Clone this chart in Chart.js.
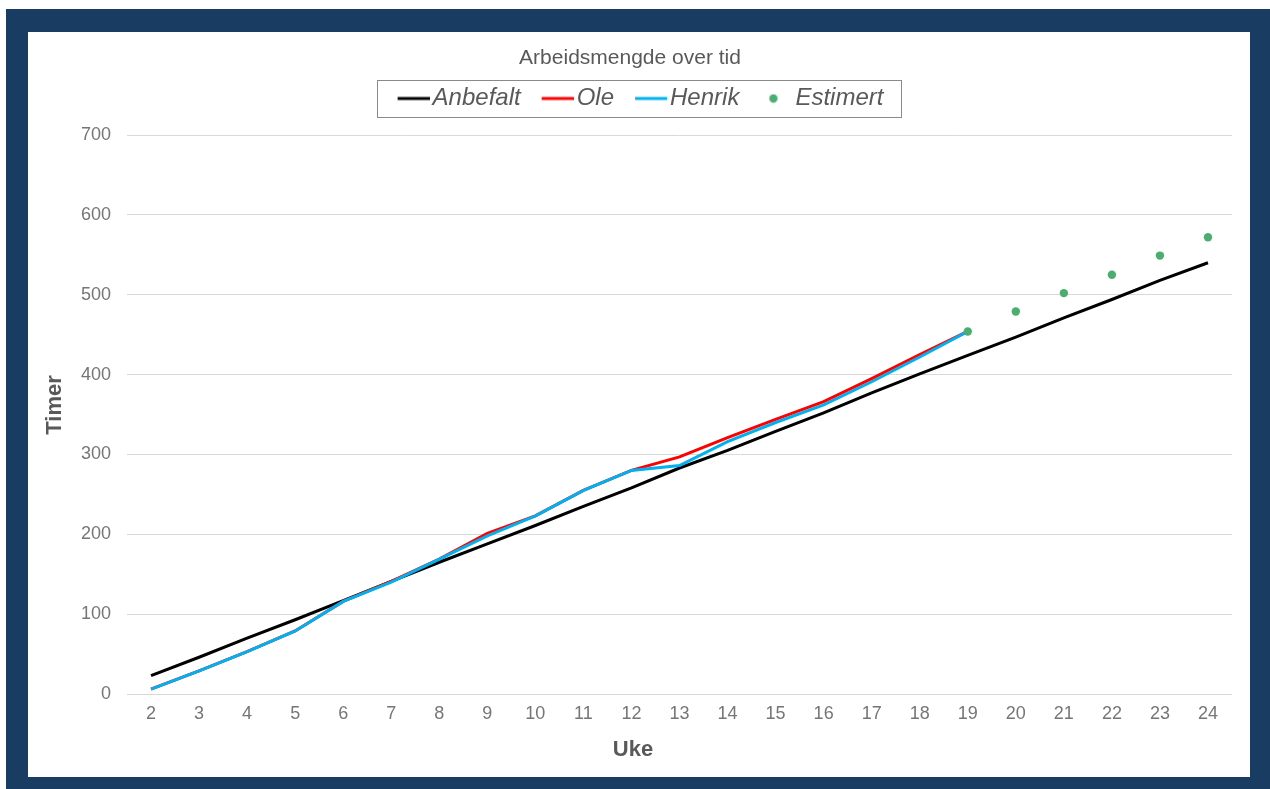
<!DOCTYPE html>
<html>
<head>
<meta charset="utf-8">
<script src="https://cdn.jsdelivr.net/npm/chart.js@4.4.1/dist/chart.umd.min.js"></script>
<style>
  html, body { margin: 0; padding: 0; background: #ffffff; width: 1270px; height: 789px; overflow: hidden; }
  #frame { position: absolute; left: 6px; top: 9px; width: 1264px; height: 780px; background: #183c62; }
  #inner { position: absolute; left: 28px; top: 32px; width: 1222px; height: 745px; background: #ffffff; }
  canvas { display: block; }
</style>
</head>
<body>
<div id="frame"></div>
<div id="inner"><canvas id="c" width="1222" height="745"></canvas></div>
<script>
const weeks = ['2','3','4','5','6','7','8','9','10','11','12','13','14','15','16','17','18','19','20','21','22','23','24'];
const anbefalt = [23, 46, 70, 93, 117, 141, 165, 188, 211, 235, 258, 283, 305, 329, 352, 377, 401, 424, 447, 471, 494, 518, 540];
const ole      = [6, 29, 53, 79, 116, 141, 169, 201, 223, 255, 280, 297, 321, 344, 366, 395, 425, 454, null, null, null, null, null];
const henrik   = [6, 29, 53, 79, 116, 140, 169, 198, 223, 255, 280, 286, 316, 340, 362, 391, 422, 454, null, null, null, null, null];
const estimert = [null, null, null, null, null, null, null, null, null, null, null, null, null, null, null, null, null, 454, 479, 502, 525, 549, 572];
const yTicks = [0, 100, 200, 300, 400, 500, 600, 700];
const xTitle = 'Uke';
const yTitle = 'Timer';

const FONT = "'Liberation Sans', Arial, sans-serif";
const GREEN = '#4aae6f';

function lineMarker(color) {
  const c = document.createElement('canvas');
  c.width = 48; c.height = 10;
  const g = c.getContext('2d');
  g.strokeStyle = color; g.lineWidth = 3;
  g.beginPath(); g.moveTo(16, 5); g.lineTo(48, 5); g.stroke();
  return c;
}
function dotMarker(color) {
  const c = document.createElement('canvas');
  c.width = 48; c.height = 10;
  const g = c.getContext('2d');
  g.fillStyle = color;
  g.beginPath(); g.arc(29, 5, 4.2, 0, Math.PI * 2); g.fill();
  return c;
}
const markers = [lineMarker('#000000'), lineMarker('#ff0000'), lineMarker('#00b0f0'), dotMarker(GREEN)];

const decor = {
  id: 'decor',
  afterLayout(chart) {
    const lg = chart.legend;
    if (lg) { lg.left += 7; lg.right += 7; }
  },
  afterDraw(chart) {
    const ctx = chart.ctx;
    const lg = chart.legend;
    if (lg && lg.legendHitBoxes && lg.legendHitBoxes.length) {
      const hb = lg.legendHitBoxes;
      let minL = Infinity, maxR = -Infinity;
      hb.forEach(h => { minL = Math.min(minL, h.left); maxR = Math.max(maxR, h.left + h.width); });
      const cy = hb[0].top + 12;
      ctx.save();
      ctx.strokeStyle = '#8a8a8a';
      ctx.lineWidth = 1;
      const x0 = Math.round(minL - 14);
      const x1 = Math.round(maxR + 18);
      ctx.strokeRect(x0 + 0.5, Math.round(cy - 18.5) + 0.5, x1 - x0, 37);
      ctx.restore();
    }
    // axis titles
    ctx.save();
    ctx.fillStyle = '#595959';
    ctx.font = "bold 22px " + FONT;
    ctx.textAlign = 'center';
    ctx.textBaseline = 'middle';
    ctx.fillText(xTitle, 605, 718);
    ctx.translate(27, 373);
    ctx.rotate(-Math.PI / 2);
    ctx.fillText(yTitle, 0, 0);
    ctx.restore();
  }
};

new Chart(document.getElementById('c'), {
  type: 'line',
  data: {
    labels: weeks,
    datasets: [
      { label: 'Anbefalt', data: anbefalt, xAxisID: 'x', yAxisID: 'y', borderColor: '#000000', backgroundColor: '#000000', borderWidth: 3, pointRadius: 0, tension: 0, order: 3 },
      { label: 'Ole', data: ole, xAxisID: 'x', yAxisID: 'y', borderColor: '#ff0000', backgroundColor: '#ff0000', borderWidth: 3, pointRadius: 0, tension: 0, order: 2 },
      { label: 'Henrik', data: henrik, xAxisID: 'x', yAxisID: 'y', borderColor: '#00b0f0', backgroundColor: '#00b0f0', borderWidth: 3, pointRadius: 0, tension: 0, order: 1 },
      { label: 'Estimert', data: estimert, xAxisID: 'x', yAxisID: 'y', borderColor: GREEN, backgroundColor: GREEN, showLine: false, pointRadius: 4.2, pointBorderWidth: 0, order: 0 }
    ]
  },
  options: {
    responsive: false,
    animation: false,
    devicePixelRatio: 1,
    layout: { padding: { left: 0, right: 18, top: 0, bottom: 0 } },
    plugins: {
      title: {
        display: true,
        text: 'Arbeidsmengde over tid',
        color: '#595959',
        font: { family: FONT, size: 21, weight: 'normal', lineHeight: 1.1 },
        padding: { top: 15, bottom: 2.4 }
      },
      legend: {
        display: true,
        position: 'top',
        labels: {
          usePointStyle: true,
          pointStyleWidth: 30,
          padding: 14,
          color: '#595959',
          font: { family: FONT, size: 24, style: 'italic' },
          sort: (a, b) => a.datasetIndex - b.datasetIndex,
          generateLabels(chart) {
            const items = Chart.defaults.plugins.legend.labels.generateLabels(chart);
            items.forEach(it => { it.pointStyle = markers[it.datasetIndex]; });
            return items;
          }
        }
      },
      tooltip: { enabled: false }
    },
    scales: {
      x: {
        type: 'category',
        offset: true,
        grid: { display: false, drawTicks: false },
        border: { display: false },
        ticks: { color: '#767676', font: { family: FONT, size: 18 }, padding: 9, maxRotation: 0, autoSkip: false },
        title: { display: false },
        afterFit(s) { s.height = 83; }
      },
      y: {
        type: 'linear',
        min: yTicks[0],
        max: yTicks[yTicks.length - 1],
        afterBuildTicks(s) { s.ticks = yTicks.map(v => ({ value: v })); },
        grid: { color: '#d9d9d9', lineWidth: 1, drawTicks: false },
        border: { display: false },
        ticks: { color: '#767676', font: { family: FONT, size: 18 }, padding: 16 },
        title: { display: false },
        afterFit(s) { s.width = 99; }
      },
      spacer: {
        type: 'linear', position: 'top', display: true,
        grid: { display: false }, border: { display: false },
        ticks: { display: false }, title: { display: false },
        afterFit(s) { s.height = 14.5; }
      }
    }
  },
  plugins: [decor]
});
</script>
</body>
</html>
